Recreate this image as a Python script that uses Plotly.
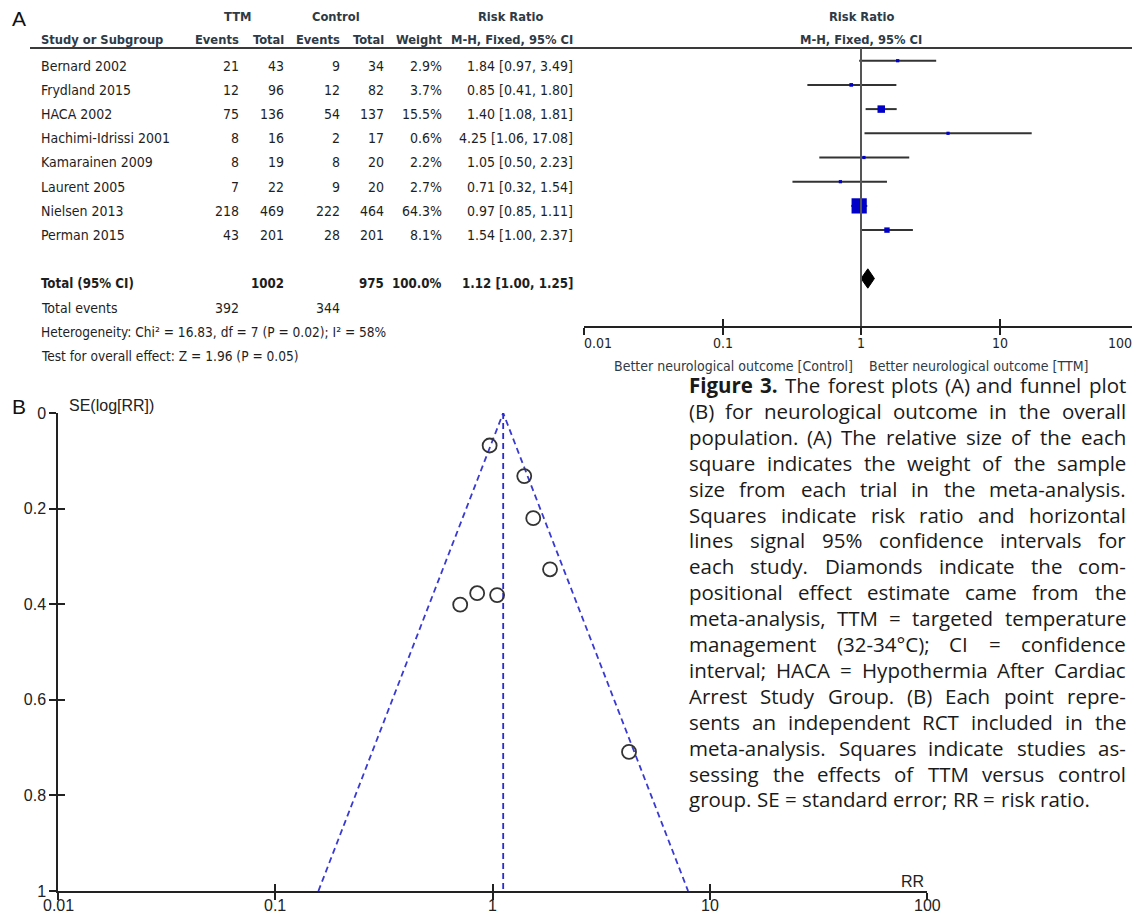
import plotly.graph_objects as go
import math

W, H = 1140, 917
OFF = 8  # the page body margin shifts the figure by 8 px; coordinates below are page pixels

def px(x):
    return (x - OFF) / W

def py(y):
    return 1 - (y - OFF) / H

# ---------------- data ----------------
studies = ["Bernard 2002", "Frydland 2015", "HACA 2002", "Hachimi-Idrissi 2001",
           "Kamarainen 2009", "Laurent 2005", "Nielsen 2013", "Perman 2015"]
ttm_events = [21, 12, 75, 8, 8, 7, 218, 43]
ttm_total = [43, 96, 136, 16, 19, 22, 469, 201]
ctl_events = [9, 12, 54, 2, 8, 9, 222, 28]
ctl_total = [34, 82, 137, 17, 20, 20, 464, 201]
weights = [2.9, 3.7, 15.5, 0.6, 2.2, 2.7, 64.3, 8.1]
rr = [1.84, 0.85, 1.40, 4.25, 1.05, 0.71, 0.97, 1.54]
ci_low = [0.97, 0.41, 1.08, 1.06, 0.50, 0.32, 0.85, 1.00]
ci_high = [3.49, 1.80, 1.81, 17.08, 2.23, 1.54, 1.11, 2.37]

total_ttm_n = 1002
total_ctl_n = 975
total_weight = 100.0
total_rr = 1.12
total_low = 1.00
total_high = 1.25
total_events_ttm = 392
total_events_ctl = 344
heterogeneity_text = "Heterogeneity: Chi² = 16.83, df = 7 (P = 0.02); I² = 58%"
overall_text = "Test for overall effect: Z = 1.96 (P = 0.05)"

forest_ticks = [0.01, 0.1, 1, 10, 100]
forest_tick_labels = ["0.01", "0.1", "1", "10", "100"]

# funnel plot: SE(log RR) of each study
funnel_se = [0.327, 0.377, 0.132, 0.709, 0.381, 0.401, 0.068, 0.220]
funnel_limit_x = [0.158, 1.12, 7.95]
funnel_limit_y = [1.0, 0.0, 1.0]
funnel_center_x = [1.12, 1.12]
funnel_center_y = [0.0, 1.0]
funnel_y_ticks = [0, 0.2, 0.4, 0.6, 0.8, 1]
funnel_y_labels = ["0", "0.2", "0.4", "0.6", "0.8", "1"]
funnel_x_ticks = [0.01, 0.1, 1, 10, 100]
funnel_x_labels = ["0.01", "0.1", "1", "10", "100"]

caption_lines = [
    "Figure 3. The forest plots (A) and funnel plot",
    "(B) for neurological outcome in the overall",
    "population. (A) The relative size of the each",
    "square indicates the weight of the sample",
    "size from each trial in the meta-analysis.",
    "Squares indicate risk ratio and horizontal",
    "lines signal 95% confidence intervals for",
    "each study. Diamonds indicate the com-",
    "positional effect estimate came from the",
    "meta-analysis, TTM = targeted temperature",
    "management (32-34°C); CI = confidence",
    "interval; HACA = Hypothermia After Cardiac",
    "Arrest Study Group. (B) Each point repre-",
    "sents an independent RCT included in the",
    "meta-analysis. Squares indicate studies as-",
    "sessing the effects of TTM versus control",
    "group. SE = standard error; RR = risk ratio.",
]

# ---------------- styling ----------------
NARROW = "Liberation Sans Narrow, Arial Narrow, DejaVu Sans Condensed, Liberation Sans, Arial, sans-serif"
ARIAL = "Liberation Sans, Arial, sans-serif"
CAP = "Open Sans, sans-serif"
BODY_C = "#1e1e1e"
HEAD_C = "#2e3a46"
TFS = 14
HFS = 12.8

study_rows = list(range(len(studies)))
total_row = 9
events_row = 10
het_row = 11
test_row = 12
TOFF = 0.2

F_X0, F_X1 = 584, 1138
F_Y0, F_Y1 = 48, 326
row_px = 24.2
row0_px = 60.7
y_top = (F_Y0 - row0_px) / row_px
y_bot = (F_Y1 - row0_px) / row_px

def row_paper(r):
    return py(row0_px + r * row_px)

P_X0, P_X1 = 58, 927
P_Y0, P_Y1 = 413, 891

fig = go.Figure()

# ---------- forest plot ----------
xs, ys = [], []
for lo, hi, r in zip(ci_low, ci_high, study_rows):
    xs += [lo, hi, None]
    ys += [r, r, None]
fig.add_trace(go.Scatter(x=xs, y=ys, mode="lines", line=dict(color="#333333", width=2),
                         xaxis="x", yaxis="y", hoverinfo="skip"))
sizes = [max(3.2, 1.9 * math.sqrt(w)) for w in weights]
fig.add_trace(go.Scatter(x=rr, y=study_rows, mode="markers",
                         marker=dict(symbol="square", size=sizes, color="#0000c8",
                                     opacity=1, line=dict(width=0)),
                         xaxis="x", yaxis="y", hoverinfo="skip"))
dh = 0.4
fig.add_trace(go.Scatter(x=[total_low, total_rr, total_high, total_rr, total_low],
                         y=[total_row, total_row - dh, total_row, total_row + dh, total_row],
                         mode="lines", fill="toself", fillcolor="black",
                         line=dict(color="black", width=1), xaxis="x", yaxis="y",
                         hoverinfo="skip"))
fig.add_trace(go.Scatter(x=[None], y=[None], xaxis="x3", yaxis="y", hoverinfo="skip"))

# ---------- funnel plot ----------
fig.add_trace(go.Scatter(x=funnel_limit_x, y=funnel_limit_y, mode="lines",
                         line=dict(color="#3a3ad2", width=1.8, dash="6px,4px"),
                         xaxis="x2", yaxis="y2", hoverinfo="skip"))
fig.add_trace(go.Scatter(x=funnel_center_x, y=funnel_center_y, mode="lines",
                         line=dict(color="#2a2ad0", width=1.8, dash="6px,4px"),
                         xaxis="x2", yaxis="y2", hoverinfo="skip"))
fig.add_trace(go.Scatter(x=rr, y=funnel_se, mode="markers",
                         marker=dict(symbol="circle-open", size=14, color="#333333",
                                     opacity=1, line=dict(width=1.8, color="#333333")),
                         xaxis="x2", yaxis="y2", hoverinfo="skip"))
fig.add_trace(go.Scatter(x=[None], y=[None], xaxis="x4", yaxis="y2", hoverinfo="skip"))
fig.add_trace(go.Scatter(x=[None], y=[None], xaxis="x2", yaxis="y4", hoverinfo="skip"))

common_axis = dict(showgrid=False, zeroline=False, fixedrange=True, automargin=False)

fig.update_layout(
    width=W, height=H, autosize=False,
    margin=dict(l=0, r=0, t=0, b=0, pad=0, autoexpand=False),
    paper_bgcolor="white", plot_bgcolor="rgba(0,0,0,0)",
    showlegend=False, hovermode=False,
    xaxis=dict(type="log", range=[-2, 2], domain=[px(F_X0), px(F_X1)], anchor="y",
               showline=True, linecolor="#222222", linewidth=1.5,
               tickvals=forest_ticks, ticks="outside", ticklen=7, tickwidth=1.5,
               tickcolor="#222222", showticklabels=False, **common_axis),
    xaxis3=dict(type="log", range=[-2, 2], domain=[px(F_X0), px(F_X1)], anchor="y",
                overlaying="x", tickvals=forest_ticks, ticks="inside", ticklen=7,
                tickwidth=1.5, tickcolor="#222222", showticklabels=False, showline=False,
                **common_axis),
    yaxis=dict(range=[y_bot, y_top], domain=[py(F_Y1), py(F_Y0)], anchor="x",
               visible=False, **common_axis),
    xaxis2=dict(type="log", range=[-2, 2], domain=[px(P_X0), px(P_X1)], anchor="y2",
                showline=True, linecolor="#222222", linewidth=1.5,
                tickvals=funnel_x_ticks, ticks="outside",
                ticklen=7, tickwidth=1.5, tickcolor="#222222", showticklabels=False,
                **common_axis),
    xaxis4=dict(type="log", range=[-2, 2], domain=[px(P_X0), px(P_X1)], anchor="y2",
                overlaying="x2", tickvals=funnel_x_ticks, ticks="inside", ticklen=7,
                tickwidth=1.5, tickcolor="#222222", showticklabels=False, showline=False,
                **common_axis),
    yaxis2=dict(range=[1, 0], domain=[py(P_Y1), py(P_Y0)], anchor="x2",
                showline=True, linecolor="#222222", linewidth=1.5,
                tickvals=funnel_y_ticks, ticktext=funnel_y_labels, ticks="outside",
                ticklen=7, tickwidth=1.5, tickcolor="#222222",
                tickfont=dict(family=ARIAL, size=16, color="#222222"), **common_axis),
    yaxis4=dict(range=[1, 0], domain=[py(P_Y1), py(P_Y0)], anchor="x2",
                overlaying="y2", tickvals=funnel_y_ticks, ticks="inside", ticklen=7,
                tickwidth=1.5, tickcolor="#222222", showticklabels=False, showline=False,
                **common_axis),
)

shapes = []
shapes.append(dict(type="line", xref="paper", yref="paper", x0=px(30), x1=px(1140),
                   y0=py(F_Y0), y1=py(F_Y0), line=dict(color="#3a3a3a", width=2.2)))
shapes.append(dict(type="line", xref="x", yref="y domain", x0=1, x1=1, y0=0, y1=1,
                   line=dict(color="#555555", width=2)))
fig.update_layout(shapes=shapes)

ann = []

def txt(text, x, y, anchor="left", size=TFS, color=BODY_C, family=NARROW, bold=False):
    if bold:
        text = "<b>" + text + "</b>"
    ann.append(dict(text=text, x=x, y=y, xref="paper", yref="paper", xanchor=anchor,
                    yanchor="middle", showarrow=False,
                    font=dict(family=family, size=size, color=color)))

C_STUDY = px(39)
C_EV1, C_N1, C_EV2, C_N2, C_WT, C_CI = px(241), px(286), px(342), px(386), px(444), px(575)

h1 = row_paper(-1.82)
h2 = row_paper(-0.86)
txt("TTM", px(237), h1, "center", size=HFS, color=HEAD_C, bold=True)
txt("Control", px(336), h1, "center", size=HFS, color=HEAD_C, bold=True)
txt("Risk Ratio", px(510), h1, "center", size=HFS, color=HEAD_C, bold=True)
txt("Risk Ratio", px(861), h1, "center", size=HFS, color=HEAD_C, bold=True)
txt("Study or Subgroup", C_STUDY, h2, "left", size=HFS, color=HEAD_C, bold=True)
txt("Events", C_EV1, h2, "right", size=HFS, color=HEAD_C, bold=True)
txt("Total", C_N1, h2, "right", size=HFS, color=HEAD_C, bold=True)
txt("Events", C_EV2, h2, "right", size=HFS, color=HEAD_C, bold=True)
txt("Total", C_N2, h2, "right", size=HFS, color=HEAD_C, bold=True)
txt("Weight", C_WT, h2, "right", size=HFS, color=HEAD_C, bold=True)
txt("M-H, Fixed, 95% CI", C_CI, h2, "right", size=HFS, color=HEAD_C, bold=True)
txt("M-H, Fixed, 95% CI", px(861), h2, "center", size=HFS, color=HEAD_C, bold=True)

for i, r in enumerate(study_rows):
    y = row_paper(r + TOFF)
    txt(studies[i], C_STUDY, y, "left")
    txt(str(ttm_events[i]), C_EV1, y, "right")
    txt(str(ttm_total[i]), C_N1, y, "right")
    txt(str(ctl_events[i]), C_EV2, y, "right")
    txt(str(ctl_total[i]), C_N2, y, "right")
    txt(f"{weights[i]:.1f}%", C_WT, y, "right")
    txt(f"{rr[i]:.2f} [{ci_low[i]:.2f}, {ci_high[i]:.2f}]", C_CI, y, "right")

y = row_paper(total_row + TOFF)
txt("Total (95% CI)", C_STUDY, y, "left", size=HFS + 0.4, bold=True)
txt(str(total_ttm_n), C_N1, y, "right", size=HFS + 0.4, bold=True)
txt(str(total_ctl_n), C_N2, y, "right", size=HFS + 0.4, bold=True)
txt(f"{total_weight:.1f}%", C_WT, y, "right", size=HFS + 0.4, bold=True)
txt(f"{total_rr:.2f} [{total_low:.2f}, {total_high:.2f}]", C_CI, y, "right",
    size=HFS + 0.4, bold=True)
y = row_paper(events_row + TOFF)
txt("Total events", C_STUDY, y, "left")
txt(str(total_events_ttm), C_EV1, y, "right")
txt(str(total_events_ctl), C_EV2, y, "right")
txt(heterogeneity_text, C_STUDY, row_paper(het_row + TOFF), "left", size=13.6)
txt(overall_text, C_STUDY, row_paper(test_row + TOFF), "left", size=13.6)

# forest axis tick labels (first and last kept inside the axis ends)
n_ft = len(forest_ticks)
for i, (tv, tl) in enumerate(zip(forest_ticks, forest_tick_labels)):
    if i == n_ft - 1:
        txt(tl, px(1134), py(343), "right")
        continue
    a = "left" if i == 0 else "center"
    xoff = -2 if i == 0 else 0
    ann.append(dict(text=tl, x=math.log10(tv), y=py(343), xref="x", yref="paper",
                    xanchor=a, xshift=xoff, yanchor="middle", showarrow=False,
                    font=dict(family=NARROW, size=TFS, color=BODY_C)))
txt("Better neurological outcome [Control]", px(855), py(366), "right", color=HEAD_C)
txt("Better neurological outcome [TTM]", px(867), py(366), "left", color=HEAD_C)

# funnel x tick labels
for tv, tl in zip(funnel_x_ticks, funnel_x_labels):
    ann.append(dict(text=tl, x=math.log10(tv), y=py(905), xref="x2", yref="paper",
                    xanchor="center", yanchor="middle", showarrow=False,
                    font=dict(family=ARIAL, size=16, color="#222222")))

txt("A", px(10), py(19), "left", size=21, family=ARIAL, color="#111")
txt("B", px(10), py(407), "left", size=21, family=ARIAL, color="#111")
txt("SE(log[RR])", px(67), py(406), "left", size=16, family=ARIAL, color="#222")
txt("RR", px(926), py(881), "right", size=16, family=ARIAL, color="#222")

# ---------- caption (justified manually) ----------
OS = {' ': 532, 'a': 1139, 'b': 1255, 'c': 975, 'd': 1255, 'e': 1149, 'f': 694,
      'g': 1122, 'h': 1257, 'i': 518, 'j': 518, 'k': 1075, 'l': 518, 'm': 1905,
      'n': 1257, 'o': 1237, 'p': 1255, 'q': 1255, 'r': 836, 's': 977, 't': 723,
      'u': 1257, 'v': 1026, 'w': 1593, 'x': 1073, 'y': 1028, 'z': 977,
      'A': 1296, 'B': 1327, 'C': 1292, 'D': 1493, 'E': 1139, 'F': 1057, 'G': 1491,
      'H': 1511, 'I': 571, 'J': 547, 'K': 1257, 'L': 1098, 'M': 1849, 'N': 1544,
      'O': 1595, 'P': 1233, 'Q': 1595, 'R': 1266, 'S': 1124, 'T': 1143, 'U': 1511,
      'V': 1226, 'W': 1894, 'X': 1169, 'Y': 1145, 'Z': 1133,
      '.': 545, ',': 502, '(': 547, ')': 547, '-': 659, '=': 1171, ';': 545,
      ':': 545, '%': 1702, '°': 877}
CFS = 20.5
CAP_X0, CAP_X1 = 689, 1126
CAP_Y0, CAP_DY = 385, 25.9

def wwidth(word, bold=False):
    u = sum(OS.get(ch, 1171) for ch in word)
    return u / 2048 * CFS * (1.07 if bold else 1.0)

for li, line in enumerate(caption_lines):
    yy = py(CAP_Y0 + li * CAP_DY)
    words = line.split(" ")
    bolds = [li == 0 and wi < 2 for wi in range(len(words))]
    widths = [wwidth(w, b) for w, b in zip(words, bolds)]
    if li == len(caption_lines) - 1:
        gap = OS[' '] / 2048 * CFS
    else:
        gap = (CAP_X1 - CAP_X0 - sum(widths)) / (len(words) - 1)
    x = CAP_X0
    for w, b, wd in zip(words, bolds, widths):
        t = "<b>" + w + "</b>" if b else w
        ann.append(dict(text=t, x=px(x + wd / 2), y=yy, xref="paper", yref="paper",
                        xanchor="center", yanchor="middle", showarrow=False,
                        font=dict(family=CAP, size=CFS, color="#1a1a1a")))
        x += wd + gap

fig.update_layout(annotations=ann)

fig.write_html("out.html", config={"displayModeBar": False})
